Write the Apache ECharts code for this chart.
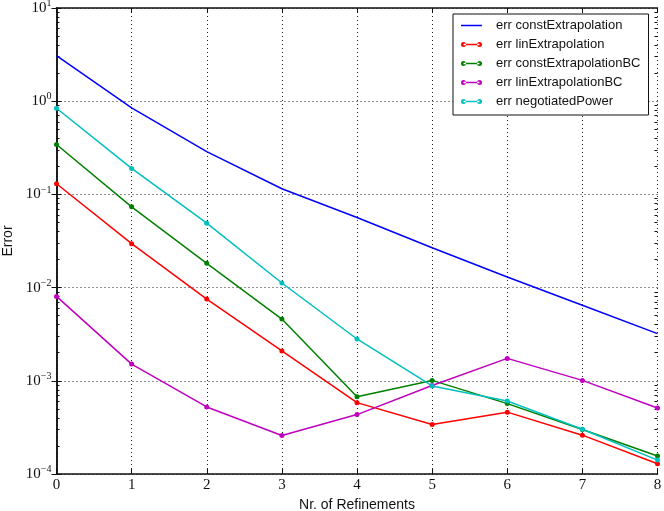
<!DOCTYPE html>
<html>
<head>
<meta charset="utf-8">
<script src="https://cdn.jsdelivr.net/npm/echarts@6/dist/echarts.min.js"></script>
<style>
html, body { margin: 0; padding: 0; background: #fff; }
#main { width: 664px; height: 511px; }
</style>
</head>
<body>
<div id="main"></div>
<script>
var refinements = [0, 1, 2, 3, 4, 5, 6, 7, 8];
var errConstExtrapolation = [3.08, 0.847, 0.288, 0.115, 0.0565, 0.0268, 0.0130, 0.00646, 0.00321];
var errLinExtrapolation = [0.130, 0.0296, 0.00754, 0.00209, 0.000583, 0.000339, 0.000461, 0.000261, 0.000129];
var errConstExtrapolationBC = [0.343, 0.0736, 0.0182, 0.0046, 0.000676, 0.00101, 0.000569, 0.000300, 0.000156];
var errLinExtrapolationBC = [0.00805, 0.00151, 0.000524, 0.000259, 0.000434, 0.00089, 0.00174, 0.00101, 0.000511];
var errNegotiatedPower = [0.84, 0.19, 0.0491, 0.0112, 0.00281, 0.00088, 0.000608, 0.000302, 0.000141];

var seriesNames = ['err constExtrapolation', 'err linExtrapolation', 'err constExtrapolationBC',
  'err linExtrapolationBC', 'err negotiatedPower'];
var seriesColors = ['#0000ff', '#ff0000', '#008000', '#bf00bf', '#00bfbf'];
var seriesData = [errConstExtrapolation, errLinExtrapolation, errConstExtrapolationBC,
  errLinExtrapolationBC, errNegotiatedPower];

// minor ticks of the log axis (2..9 in each decade)
var minorTicks = [];
for (var d = -4; d <= 0; d++) {
  for (var m = 2; m <= 9; m++) minorTicks.push(+(m * Math.pow(10, d)).toPrecision(3));
}

var iconLine = 'path://M0,0h0.01v0.01h-0.01z M0,1.8h21v1.4h-21z M20.99,4.99h0.01v0.01h-0.01z';
var iconDots = 'path://M2.5,1.8h16v1.4h-16z M0,2.5a2.5,2.5 0 1,0 5,0a2.5,2.5 0 1,0 -5,0z M16,2.5a2.5,2.5 0 1,0 5,0a2.5,2.5 0 1,0 -5,0z';

var chart = echarts.init(document.getElementById('main'));

var frame = { show: true, lineStyle: { color: '#111', width: 1.5 } };
var gridLine = { show: true, lineStyle: { color: '#222', type: [1, 3], width: 1 } };
var tickFont = { fontFamily: 'Liberation Serif', fontSize: 15, color: '#111' };

var series = seriesNames.map(function (name, i) {
  return {
    name: name,
    type: 'line',
    xAxisIndex: 0,
    yAxisIndex: 0,
    data: refinements.map(function (x, j) { return [x, seriesData[i][j]]; }),
    symbol: i === 0 ? 'none' : 'circle',
    symbolSize: 5,
    showSymbol: i !== 0,
    lineStyle: { width: 1.5, color: seriesColors[i] },
    itemStyle: { color: seriesColors[i] },
    animation: false,
    z: 3
  };
});

var option = {
  animation: false,
  grid: { left: 56.5, right: 6.5, top: 8, bottom: 37, containLabel: false, outerBoundsMode: 'none' },
  legend: {
    orient: 'vertical',
    left: 453,
    top: 14,
    width: 199,
    padding: [5, 8, 7, 8],
    itemGap: 6,
    itemWidth: 21,
    itemHeight: 5,
    backgroundColor: '#fff',
    borderColor: '#111',
    borderWidth: 1,
    borderRadius: 0,
    textStyle: { fontFamily: 'Liberation Sans', fontSize: 13, color: '#111', padding: [0, 0, 0, 9] },
    data: seriesNames.map(function (name, i) {
      return { name: name, icon: i === 0 ? iconLine : iconDots };
    })
  },
  xAxis: [{
    type: 'value', min: 0, max: 8, interval: 1, position: 'bottom',
    name: 'Nr. of Refinements', nameLocation: 'middle', nameGap: 18,
    nameTextStyle: { fontFamily: 'Liberation Sans', fontSize: 14, color: '#111' },
    axisLine: frame,
    axisTick: { show: true, inside: true, length: 5, lineStyle: { color: '#111' } },
    axisLabel: Object.assign({ margin: 4 }, tickFont),
    splitLine: gridLine
  }, {
    type: 'value', min: 0, max: 8, interval: 1, position: 'top',
    axisLine: frame,
    axisTick: { show: true, inside: true, length: 5, lineStyle: { color: '#111' } },
    axisLabel: { show: false },
    splitLine: { show: false }
  }],
  yAxis: [{
    type: 'log', min: 1e-4, max: 10, logBase: 10, position: 'left',
    name: 'Error', nameLocation: 'middle', nameGap: 41,
    nameTextStyle: { fontFamily: 'Liberation Sans', fontSize: 14, color: '#111' },
    axisLine: frame,
    axisTick: { show: true, inside: true, length: 5, lineStyle: { color: '#111' } },
    axisLabel: {
      margin: 5,
      formatter: function (v) {
        var e = Math.round(Math.log10(v));
        return '{b|10}{e|' + String(e).replace('-', '\u2212') + '}';
      },
      rich: {
        b: { fontFamily: 'Liberation Serif', fontSize: 15, color: '#111' },
        e: { fontFamily: 'Liberation Serif', fontSize: 10, color: '#111', padding: [0, 0, 9, 0] }
      }
    },
    splitLine: gridLine
  }, {
    type: 'log', min: 1e-4, max: 10, logBase: 10, position: 'right',
    axisLine: frame,
    axisTick: { show: true, inside: true, length: 5, lineStyle: { color: '#111' } },
    axisLabel: { show: false },
    splitLine: { show: false }
  }, {
    type: 'log', min: 1e-4, max: 10, logBase: 10, position: 'left',
    axisLine: { show: false },
    axisTick: { show: true, inside: true, length: 3, customValues: minorTicks, lineStyle: { color: '#111' } },
    axisLabel: { show: false },
    splitLine: { show: false }
  }, {
    type: 'log', min: 1e-4, max: 10, logBase: 10, position: 'right',
    axisLine: { show: false },
    axisTick: { show: true, inside: true, length: 3, customValues: minorTicks, lineStyle: { color: '#111' } },
    axisLabel: { show: false },
    splitLine: { show: false }
  }],
  series: series
};

chart.setOption(option);
</script>
</body>
</html>
